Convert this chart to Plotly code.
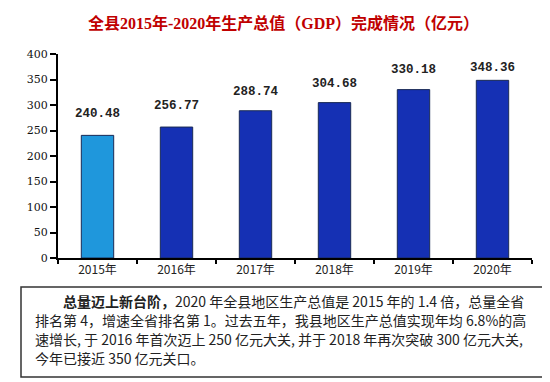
import plotly.graph_objects as go

years = ["2015年", "2016年", "2017年", "2018年", "2019年", "2020年"]
gdp = [240.48, 256.77, 288.74, 304.68, 330.18, 348.36]
labels = ["240.48", "256.77", "288.74", "304.68", "330.18", "348.36"]
y_ticks = [0, 50, 100, 150, 200, 250, 300, 350, 400]

title_text = "全县2015年-2020年生产总值（GDP）完成情况（亿元）"
note_lines = [
    "<b>总量迈上新台阶，</b>2020 年全县地区生产总值是 2015 年的 1.4 倍，总量全省",
    "排名第 4，增速全省排名第 1。过去五年，我县地区生产总值实现年均 6.8%的高",
    "速增长, 于 2016 年首次迈上 250 亿元大关, 并于 2018 年再次突破 300 亿元大关,",
    "今年已接近 350 亿元关口。",
]

bar_colors = ["#1f97dc"] + ["#1530b4"] * 5
label_shift = [21, 21, 19, 19, 20, 12]

W, H = 550, 382
ml, mr, mt, mb = 50, 26, 46, 132
pw, ph = W - ml - mr, H - mt - mb

def px2x(p):
    return (p - ml) / pw

def py2y(p):
    return (H - mb - p) / ph

fig = go.Figure()
fig.add_trace(go.Bar(
    x=years, y=gdp,
    marker=dict(color=bar_colors, line=dict(color="#1a2a55", width=1)),
    width=0.41,
    hoverinfo="x+y",
))

annotations = []
for yr, v, lab, s in zip(years, gdp, labels, label_shift):
    annotations.append(dict(
        x=yr, y=v, xref="x", yref="y", text="<b>" + lab + "</b>", showarrow=False,
        yanchor="middle", yshift=s,
        font=dict(family="Liberation Mono, monospace", size=12.5, color="#222222"),
    ))

annotations.append(dict(
    x=px2x(275), y=py2y(15), xref="paper", yref="paper",
    xanchor="center", yanchor="middle",
    text="<b>" + title_text + "</b>", showarrow=False,
    font=dict(family="Liberation Serif, Noto Sans CJK SC", size=16, color="#c00000"),
))

line_y = [293, 312, 331, 350]
line_x = [53, 25, 25, 25]
for t, lx, ly in zip(note_lines, line_x, line_y):
    annotations.append(dict(
        x=px2x(lx), y=py2y(ly), xref="paper", yref="paper",
        xanchor="left", yanchor="middle", text=t, showarrow=False,
        font=dict(family="Noto Sans CJK SC", size=14, color="#222222"),
    ))

fig.update_layout(
    width=W, height=H,
    margin=dict(l=ml, r=mr, t=mt, b=mb, autoexpand=False),
    paper_bgcolor="white", plot_bgcolor="white",
    showlegend=False,
    annotations=annotations,
    shapes=[dict(
        type="rect", xref="paper", yref="paper",
        x0=px2x(13), x1=px2x(536), y0=py2y(369), y1=py2y(279),
        line=dict(color="#333333", width=1.5),
    )],
    xaxis=dict(
        automargin=False,
        showline=True, linecolor="black", linewidth=2,
        ticks="outside", tickcolor="black", tickwidth=2, ticklen=4,
        tickson="boundaries",
        tickfont=dict(family="Noto Sans CJK SC", size=12, color="#222222"),
        showgrid=False,
    ),
    yaxis=dict(
        automargin=False,
        range=[0, 400], tickvals=y_ticks,
        showline=True, linecolor="black", linewidth=2,
        ticks="outside", tickcolor="black", tickwidth=2, ticklen=6,
        tickfont=dict(family="DejaVu Serif", size=11, color="#111111"),
        showgrid=False, zeroline=False,
    ),
    bargap=0.59,
)

fig.write_html("out.html")
